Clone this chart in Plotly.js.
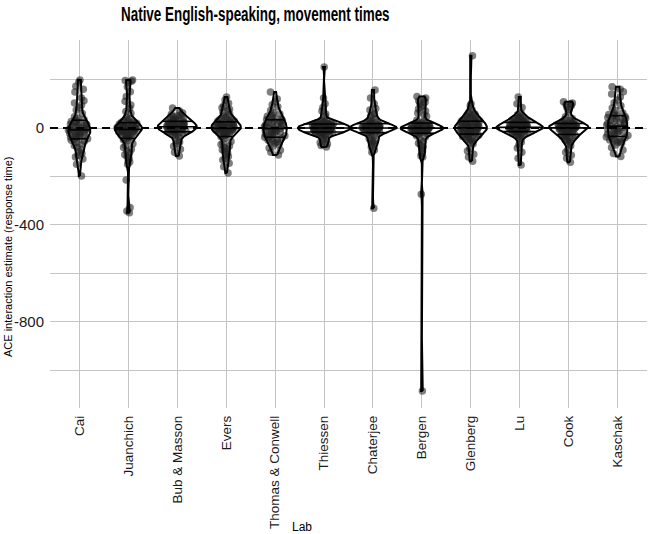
<!DOCTYPE html>
<html><head><meta charset="utf-8">
<script src="https://cdn.plot.ly/plotly-3.0.1.min.js"></script>
<style>html,body{margin:0;padding:0;background:#fff}#chart{width:649px;height:534px}</style>
</head><body><div id="chart"></div>
<script>
// Labs (categories)
const labs = ["Cai", "Juanchich", "Bub & Masson", "Evers", "Thomas & Conwell", "Thiessen",
              "Chaterjee", "Bergen", "Glenberg", "Lu", "Cook", "Kaschak"];

// ACE interaction estimates (response time) per lab
const cai = [198, 190, 172, 160, 148, 124, 112, 103, 95, 84, 74, 60, 46, 40, 35, 31, 27, 24, 21, 18, 15, 13, 10, 8, 5, 3, 0, -2, -4, -7, -9, -11, -13, -16, -18, -20, -23, -25, -28, -30, -33, -35, -38, -41, -44, -47, -51, -55, -60, -66, -72, -80, -88, -97, -105, -112, -120, -128, -150, -198];
const juanchich = [198, 196, 193, 189, 170, 150, 130, 110, 95, 80, 68, 60, 43, 38, 33, 30, 27, 24, 22, 20, 17, 15, 13, 12, 11, 9, 7, 6, 5, 3, 2, 1, 0, -2, -3, -4, -6, -8, -10, -11, -12, -13, -15, -17, -19, -21, -23, -25, -27, -30, -32, -34, -37, -40, -43, -48, -53, -65, -72, -80, -88, -95, -102, -110, -118, -125, -133, -140, -150, -214, -328, -342, -350];
const bubMasson = [83, 70, 62, 57, 53, 49, 46, 43, 41, 38, 36, 33, 31, 29, 27, 25, 23, 21, 20, 18, 16, 15, 13, 12, 10, 9, 7, 6, 4, 3, 2, 0, -1, -2, -4, -5, -7, -8, -10, -12, -13, -15, -17, -20, -22, -25, -28, -32, -37, -52, -58, -65, -75, -88, -100, -116];
const evers = [128, 115, 102, 92, 84, 77, 71, 66, 56, 49, 45, 41, 38, 35, 33, 30, 28, 26, 24, 22, 20, 18, 16, 15, 13, 12, 10, 9, 7, 6, 5, 3, 2, 1, -1, -2, -3, -5, -6, -8, -9, -11, -12, -14, -16, -17, -19, -22, -24, -26, -29, -32, -36, -42, -56, -62, -68, -74, -80, -85, -90, -96, -103, -110, -118, -126, -132, -145, -160, -186];
const thomasConwell = [149, 120, 107, 96, 88, 72, 64, 58, 53, 48, 44, 40, 37, 34, 31, 28, 25, 22, 19, 16, 13, 11, 8, 5, 3, 0, -2, -5, -8, -10, -13, -15, -18, -21, -23, -26, -29, -32, -35, -38, -41, -44, -47, -51, -54, -58, -62, -68, -74, -82, -92, -100, -111];
const thiessen = [252, 124, 100, 85, 70, 58, 48, 33, 30, 28, 26, 24, 23, 21, 20, 19, 18, 17, 15, 14, 13, 12, 11, 10, 10, 9, 8, 7, 6, 5, 4, 3, 2, 1, 0, 0, -1, -2, -3, -4, -5, -6, -7, -8, -9, -10, -10, -11, -12, -13, -14, -15, -17, -18, -19, -20, -21, -23, -24, -26, -28, -30, -33, -42, -48, -54, -60, -66, -72, -78];
const chaterjee = [157, 124, 100, 80, 74, 60, 54, 49, 38, 32, 28, 25, 23, 20, 18, 16, 14, 12, 11, 9, 8, 7, 6, 5, 4, 3, 2, 1, 0, -1, -2, -3, -4, -5, -6, -7, -8, -9, -11, -13, -15, -17, -19, -21, -24, -28, -33, -44, -48, -53, -58, -64, -70, -78, -91, -100, -331];
const bergen = [130, 124, 118, 112, 106, 100, 93, 86, 78, 70, 62, 55, 48, 33, 28, 24, 21, 19, 16, 14, 12, 11, 10, 9, 8, 7, 6, 5, 4, 3, 2, 1, 0, -1, -2, -3, -4, -5, -6, -7, -8, -9, -10, -11, -12, -14, -16, -18, -20, -22, -25, -28, -32, -37, -50, -56, -63, -70, -78, -86, -95, -105, -114, -120, -273, -1085];
const glenberg = [298, 100, 92, 75, 67, 62, 58, 54, 51, 48, 45, 42, 40, 37, 35, 33, 31, 29, 27, 25, 24, 22, 20, 19, 17, 15, 14, 12, 11, 9, 8, 7, 5, 4, 3, 1, 0, -1, -3, -4, -5, -7, -8, -10, -11, -13, -14, -16, -17, -19, -21, -22, -24, -26, -28, -30, -33, -35, -37, -40, -43, -46, -49, -53, -58, -65, -85, -95, -108, -120, -137];
const lu = [128, 100, 85, 61, 55, 50, 46, 43, 41, 38, 36, 33, 31, 29, 27, 25, 24, 22, 20, 19, 17, 16, 14, 13, 12, 11, 10, 9, 8, 7, 6, 5, 4, 3, 2, 1, 0, -1, -2, -2, -3, -4, -5, -6, -7, -8, -10, -11, -12, -14, -16, -17, -19, -21, -23, -25, -27, -30, -33, -37, -43, -58, -68, -82, -100, -125, -153];
const cook = [108, 103, 100, 97, 93, 86, 76, 66, 46, 39, 35, 31, 28, 25, 22, 20, 19, 18, 16, 15, 14, 12, 11, 10, 9, 8, 7, 6, 5, 4, 3, 2, 1, 0, -1, -2, -4, -5, -6, -8, -10, -11, -13, -15, -16, -18, -20, -22, -25, -27, -30, -32, -35, -38, -41, -45, -49, -53, -58, -64, -73, -90, -100, -112, -125, -141];
const kaschak = [170, 160, 150, 140, 128, 116, 104, 92, 82, 72, 62, 59, 56, 53, 50, 47, 43, 40, 37, 34, 31, 28, 25, 22, 19, 16, 12, 9, 6, 3, 0, -3, -6, -9, -12, -16, -19, -22, -25, -28, -31, -34, -37, -40, -43, -47, -50, -53, -56, -59, -62, -70, -80, -91, -105, -118];

const labData = [cai, juanchich, bubMasson, evers, thomasConwell, thiessen,
                 chaterjee, bergen, glenberg, lu, cook, kaschak];
const yTicks = [-800, -400, 0];

const VW = 1.06;     // violin width (category units), area-scaled like ggplot
const NPTS = 512;    // density evaluation points per violin

function quantile(s, p) {
  const h = (s.length - 1) * p, lo = Math.floor(h);
  const hi = Math.min(lo + 1, s.length - 1);
  return s[lo] + (h - lo) * (s[hi] - s[lo]);
}
function stdev(a) {
  const m = a.reduce((x, y) => x + y, 0) / a.length;
  return Math.sqrt(a.reduce((x, y) => x + (y - m) * (y - m), 0) / (a.length - 1));
}
function bwNrd0(a) {
  const s = a.slice().sort((x, y) => x - y);
  const iqr = quantile(s, 0.75) - quantile(s, 0.25);
  const lo = Math.min(stdev(a), iqr / 1.34);
  return 0.9 * lo * Math.pow(a.length, -0.2);
}
function kde(a, bw, t) {
  let s = 0;
  for (const v of a) { const u = (t - v) / bw; s += Math.exp(-0.5 * u * u); }
  return s / (a.length * bw * Math.sqrt(2 * Math.PI));
}

// density curves (trimmed to data range)
const dens = labData.map(a => {
  const bw = bwNrd0(a);
  const mn = Math.min(...a), mx = Math.max(...a);
  const t = [], d = [];
  for (let k = 0; k < NPTS; k++) {
    const y = mn + (mx - mn) * k / (NPTS - 1);
    t.push(y); d.push(kde(a, bw, y));
  }
  return {bw, t, d};
});
const globalMax = Math.max(...dens.map(o => Math.max(...o.d)));

const traces = [];
// jittered points (library jitter); the violin body of these traces is hidden
labData.forEach((a, i) => {
  traces.push({
    type: 'violin',
    x: a.map(() => i), y: a,
    name: labs[i],
    width: VW * 0.9,
    spanmode: 'hard',
    line: {color: 'rgba(0,0,0,0)', width: 0},
    fillcolor: 'rgba(0,0,0,0)',
    points: 'all', jitter: 0.5, pointpos: 0,
    marker: {size: 7.5, color: 'rgba(35,35,35,0.58)', line: {width: 0}},
    box: {visible: false}, meanline: {visible: false},
    hoveron: 'points', hoverinfo: 'y', showlegend: false
  });
});

// violin outlines (ggplot-style area scaling)
dens.forEach((o, i) => {
  const hw = o.d.map(v => (VW / 2) * v / globalMax);
  const xs = [], ys = [];
  for (let k = 0; k < NPTS; k++) { xs.push(i + hw[k]); ys.push(o.t[k]); }
  for (let k = NPTS - 1; k >= 0; k--) { xs.push(i - hw[k]); ys.push(o.t[k]); }
  xs.push(xs[0]); ys.push(ys[0]);
  traces.push({
    type: 'scatter', mode: 'lines', x: xs, y: ys,
    line: {color: '#000', width: 2}, hoverinfo: 'skip', showlegend: false
  });
});

// quantile lines (25%, 50%, 75%)
const qx = [], qy = [];
labData.forEach((a, i) => {
  const s = a.slice().sort((x, y) => x - y);
  [0.25, 0.5, 0.75].forEach(p => {
    const q = quantile(s, p);
    const hw = (VW / 2) * kde(a, dens[i].bw, q) / globalMax;
    qx.push(i - hw, i + hw, null);
    qy.push(q, q, null);
  });
});
traces.push({
  type: 'scatter', mode: 'lines', x: qx, y: qy,
  line: {color: '#000', width: 1.6}, hoverinfo: 'skip', showlegend: false
});

const gridC = '#c4c4c4';
const layout = {
  width: 649, height: 534,
  margin: {l: 50, r: 2, t: 40, b: 126},
  paper_bgcolor: '#fff', plot_bgcolor: '#fff',
  violinmode: 'overlay',
  showlegend: false,
  title: {
    text: 'Native English-speaking, movement times',
    font: {family: 'Liberation Sans, Arial, sans-serif', size: 21, weight: 'bold', color: '#000'},
    xref: 'container', x: 121 / 649, xanchor: 'left',
    yref: 'container', y: 1 - 14 / 534, yanchor: 'middle'
  },
  xaxis: {
    range: [-0.6, 11.6],
    tickmode: 'array',
    tickvals: labs.map((_, i) => i),
    ticktext: labs,
    tickangle: -90,
    showgrid: true, gridcolor: gridC, gridwidth: 1,
    zeroline: false, showline: false, ticks: '',
    ticklabelstandoff: 4,
    tickfont: {family: 'Liberation Sans, Arial, sans-serif', size: 13.5, color: '#1a1a1a'}
  },
  yaxis: {
    range: [-1155, 363],
    tickmode: 'array',
    tickvals: yTicks,
    ticktext: yTicks.map(String),
    showgrid: true, gridcolor: gridC, gridwidth: 1,
    minor: {tickmode: 'linear', tick0: 0, dtick: 200, showgrid: true, gridcolor: gridC, gridwidth: 1, ticks: ''},
    zeroline: false, showline: false, ticks: '',
    ticklabelstandoff: 5,
    tickfont: {family: 'Liberation Sans, Arial, sans-serif', size: 15, color: '#1a1a1a'}
  },
  shapes: [{
    type: 'line', xref: 'paper', x0: 0, x1: 1, yref: 'y', y0: 0, y1: 0,
    line: {color: '#000', width: 2, dash: '8px,5px'}, layer: 'above'
  }],
  annotations: [{
    text: 'ACE interaction estimate (response time)', showarrow: false, textangle: -90,
    xref: 'paper', x: (8 - 50) / 597, xanchor: 'center',
    yref: 'paper', y: (408 - 257) / 368, yanchor: 'middle',
    font: {family: 'Liberation Sans, Arial, sans-serif', size: 11, color: '#000'}
  }, {
    text: 'Lab', showarrow: false,
    xref: 'paper', x: (302 - 50) / 597, xanchor: 'center',
    yref: 'paper', y: -(527 - 408) / 368, yanchor: 'middle',
    font: {family: 'Liberation Sans, Arial, sans-serif', size: 12, color: '#000'}
  }]
};

Plotly.newPlot('chart', traces, layout, {displayModeBar: false, responsive: false}).then(gd => {
  // the reference title is set in a condensed face: compress it horizontally
  const t = gd.querySelector('.gtitle');
  if (t) {
    const x = parseFloat(t.getAttribute('x')) || 0;
    t.setAttribute('transform', `translate(${x},0) scale(0.64,1) translate(${-x},0)`);
  }
});
</script>
</body></html>
